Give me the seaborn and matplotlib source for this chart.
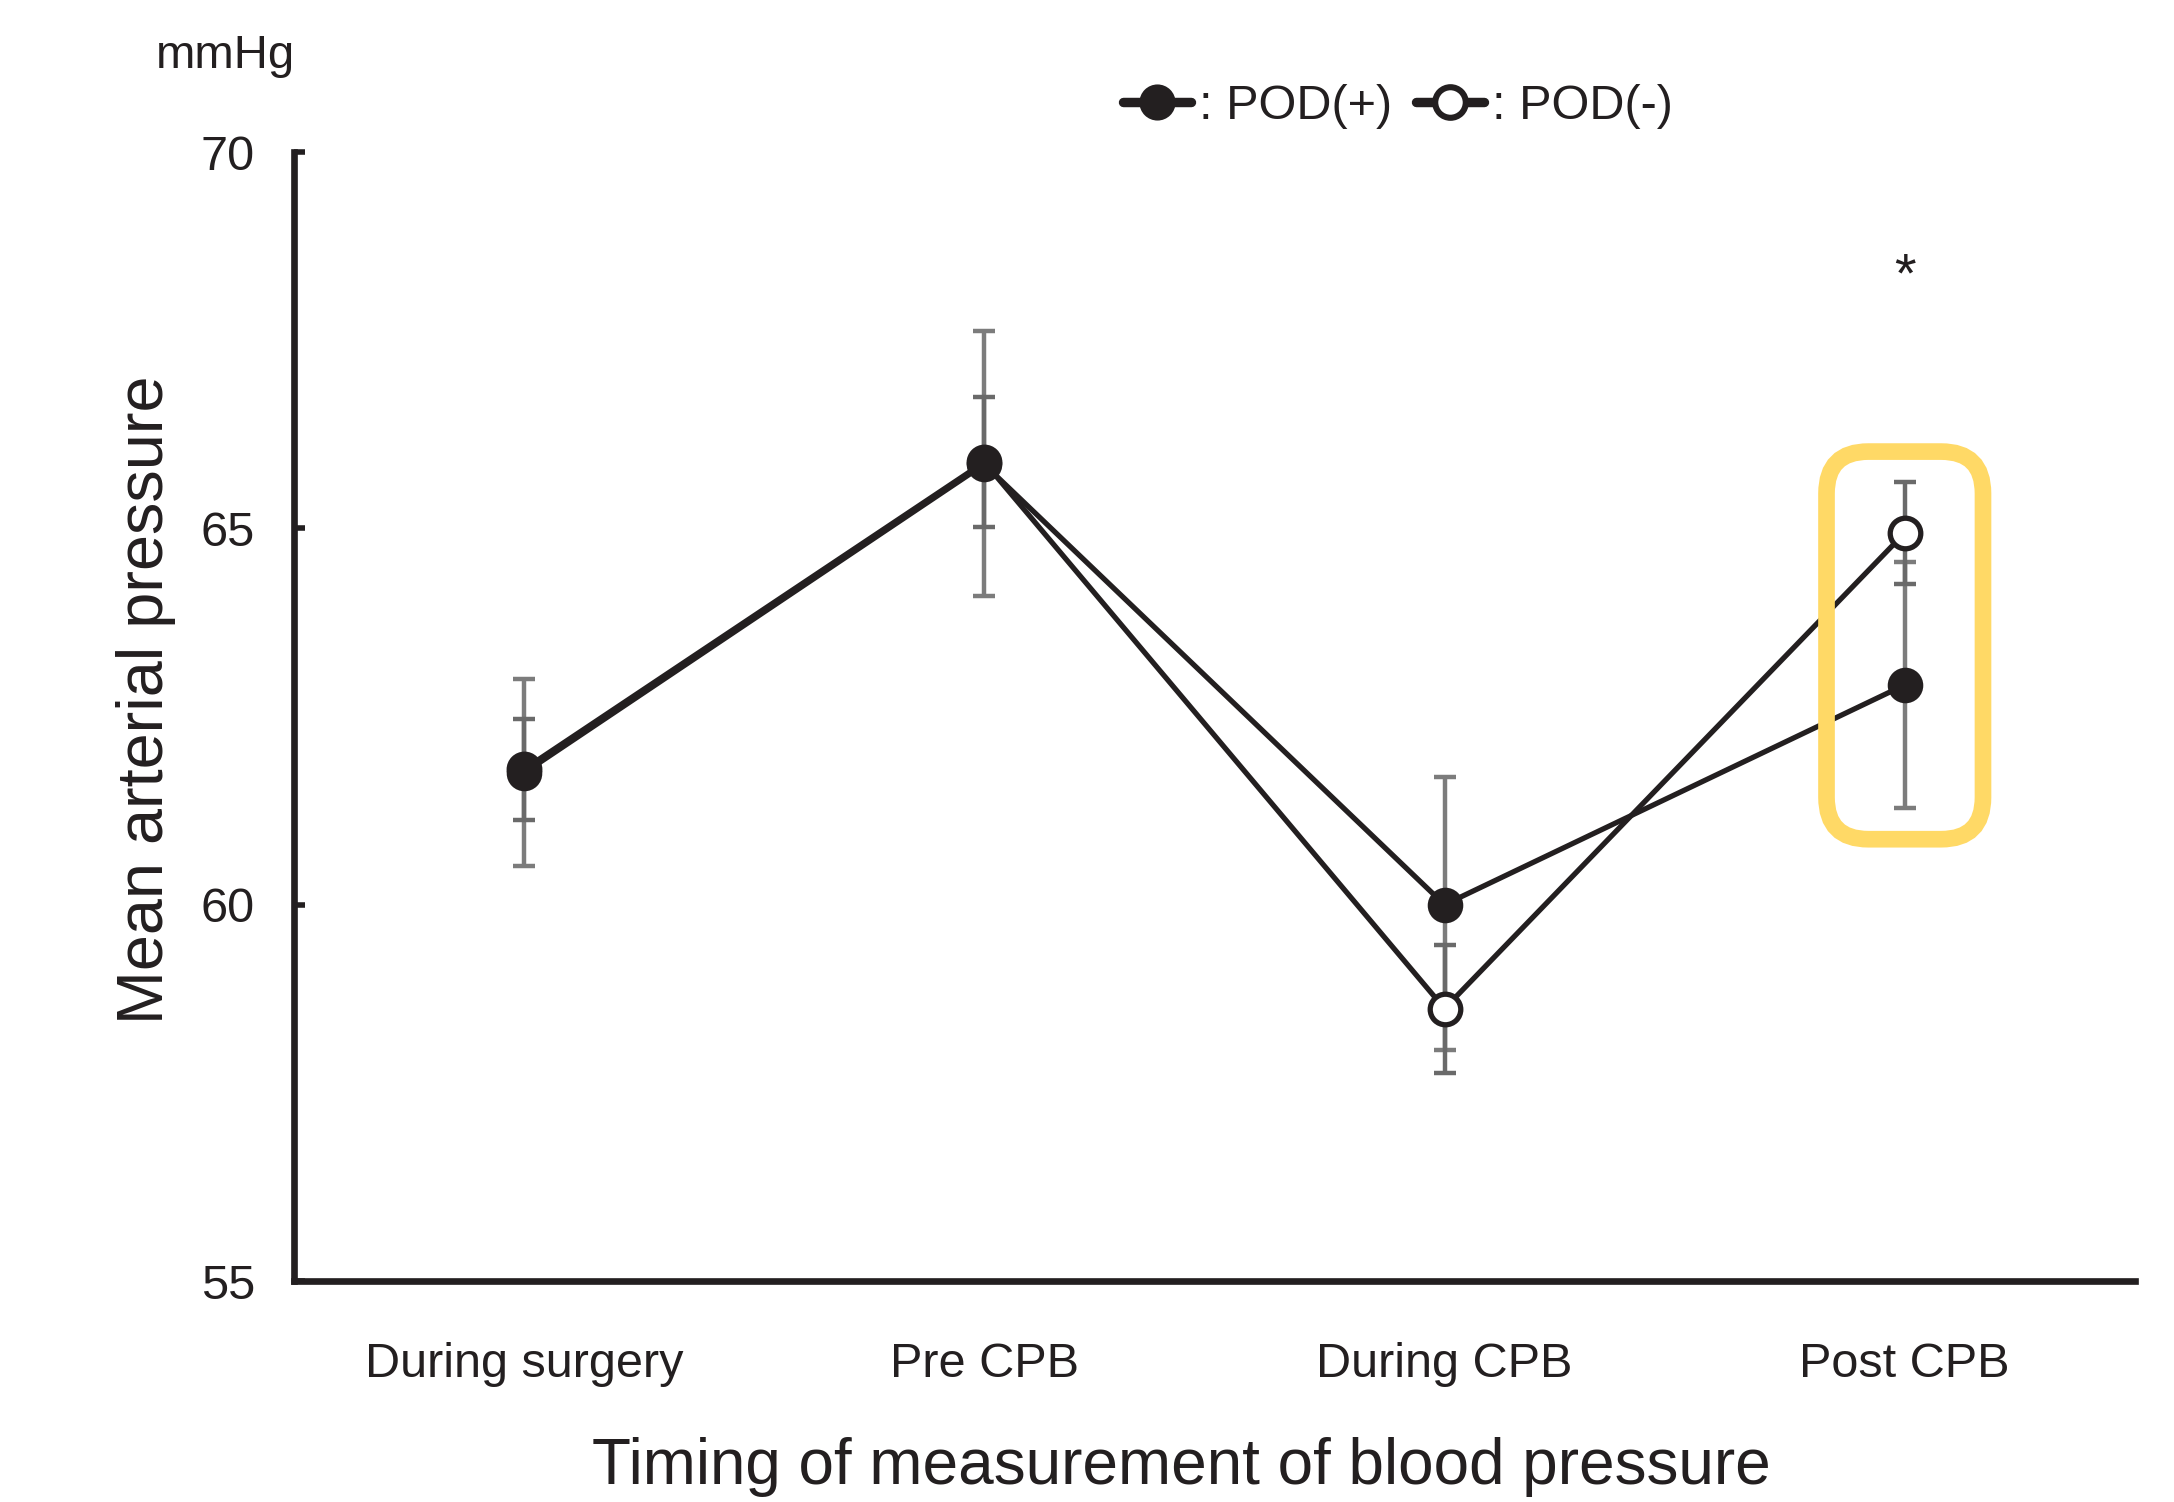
import numpy as np
import pandas as pd
import matplotlib
matplotlib.use("Agg")
import matplotlib.pyplot as plt
from matplotlib.lines import Line2D
from matplotlib.patches import FancyBboxPatch
import seaborn as sns

# Data (mean arterial pressure, mmHg)
categories = ["During surgery", "Pre CPB", "During CPB", "Post CPB"]
pod_pos_mean = [61.75, 65.85, 60.0, 62.92]
pod_pos_err_lo = [1.23, 1.75, 1.93, 1.63]
pod_pos_err_hi = [1.25, 1.77, 1.69, 1.63]
pod_neg_mean = [61.80, 65.88, 58.62, 64.94]
pod_neg_err = [0.67, 0.86, 0.85, 0.68]
significant = ["Post CPB"]

sns.set_style("ticks")
plt.rcParams["font.family"] = ["Liberation Sans", "DejaVu Sans"]
ink = "#231f20"

df = pd.DataFrame({
    "timing": categories * 2,
    "map": pod_pos_mean + pod_neg_mean,
    "group": ["POD(+)"] * 4 + ["POD(-)"] * 4,
})

fig = plt.figure(figsize=(10.87, 7.51), dpi=200)
ax = fig.add_axes([0.1352, 0.1471, 0.982 - 0.1352, 0.8988 - 0.1471])

# error bars behind the lines
ax.errorbar(categories, pod_pos_mean, yerr=[pod_pos_err_lo, pod_pos_err_hi],
            fmt="none", ecolor="#7c7c7c", elinewidth=1.6, capsize=3.8,
            capthick=1.6, zorder=1)
ax.errorbar(categories, pod_neg_mean, yerr=pod_neg_err,
            fmt="none", ecolor="#6a6a6a", elinewidth=1.6, capsize=3.8,
            capthick=1.6, zorder=1)

sns.lineplot(data=df[df["group"] == "POD(-)"], x="timing", y="map", sort=False,
             color=ink, lw=1.9, marker="o", ms=11, mfc="white", mec=ink,
             mew=1.9, ax=ax, zorder=3, legend=False)
sns.lineplot(data=df[df["group"] == "POD(+)"], x="timing", y="map", sort=False,
             color=ink, lw=1.9, marker="o", ms=12, mfc=ink, mec=ink,
             mew=0.8, ax=ax, zorder=4, legend=False)

ax.set_xlim(-0.5, 3.5)
ax.set_ylim(55, 70)
ax.set_yticks([55, 60, 65, 70])
ax.tick_params(axis="y", direction="in", length=4, width=2, labelsize=17.5,
               pad=14, colors=ink)
ax.tick_params(axis="x", length=0, labelsize=17.5, pad=22, colors=ink)
for side in ["top", "right"]:
    ax.spines[side].set_visible(False)
for side in ["left", "bottom"]:
    ax.spines[side].set_linewidth(2.4)
    ax.spines[side].set_color(ink)

ax.set_xlabel("Timing of measurement of blood pressure", fontsize=23,
              labelpad=18, color=ink)
ax.xaxis.label.set_x(0.482)
ax.set_ylabel("Mean arterial pressure", fontsize=23.3, color=ink)
ax.yaxis.set_label_coords(-0.064, 0.515)
fig.text(0.1035, 0.963, "mmHg", fontsize=17, ha="center", va="center", color=ink)

# significance marker and highlight box
for cat in significant:
    i = categories.index(cat)
    ax.text(i, 68.33, "*", fontsize=20, ha="center", va="center", color=ink)
    lo = min(pod_pos_mean[i] - pod_pos_err_lo[i], pod_neg_mean[i] - pod_neg_err[i]) - 0.42
    hi = max(pod_pos_mean[i] + pod_pos_err_hi[i], pod_neg_mean[i] + pod_neg_err[i]) + 0.40
    half_w = 0.17
    aspect = 6.115
    box = FancyBboxPatch((i - half_w, lo), 2 * half_w, hi - lo,
                         boxstyle="round,pad=0,rounding_size=0.091",
                         mutation_aspect=aspect, fill=False,
                         edgecolor="#FFD966", lw=6.0, zorder=5, clip_on=False)
    ax.add_patch(box)

handles = [
    Line2D([], [], color=ink, lw=3.4, marker="o", ms=12, mfc=ink, mec=ink),
    Line2D([], [], color=ink, lw=3.4, marker="o", ms=11, mfc="white", mec=ink, mew=2.2),
]
fig.legend(handles, [": POD(+)", ": POD(-)"], loc="center",
           bbox_to_anchor=(0.643, 0.929), ncol=2, frameon=False, fontsize=17.5,
           handlelength=1.4, handletextpad=0.15, columnspacing=0.5,
           labelcolor=ink)

fig.savefig("out.png", dpi=200)
